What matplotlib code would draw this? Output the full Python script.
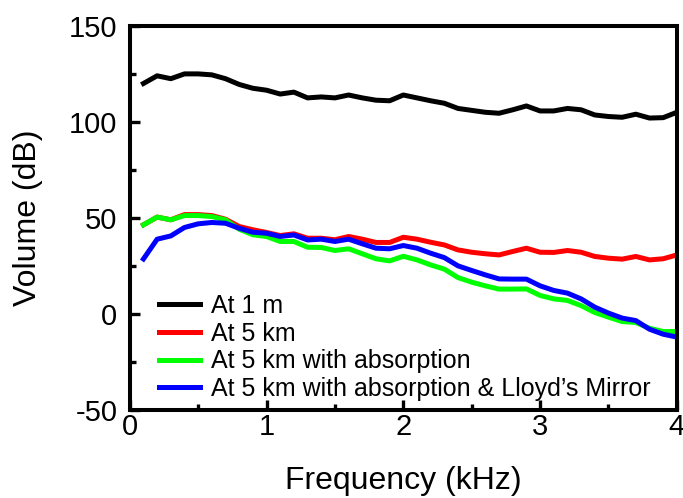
import matplotlib
matplotlib.use('Agg')
import matplotlib.pyplot as plt
from matplotlib.ticker import MultipleLocator
import numpy as np

plt.rcParams['font.family'] = ['Liberation Sans', 'DejaVu Sans']
plt.rcParams['axes.unicode_minus'] = False

# frequenze 0.1 .. 4.0 kHz
freq = np.round(np.arange(1, 41) * 0.1, 1)

at_1m = [120, 124, 122.5, 125, 125, 124.5, 122.5, 119.5, 117.5, 116.5,
         114.5, 115.5, 112.5, 113, 112.5, 114, 112.5, 111.3, 111, 114,
         112.5, 111, 109.7, 107, 106, 105, 104.5, 106.3, 108.3, 105.7,
         105.7, 107, 106.3, 103.6, 102.8, 102.4, 104, 102, 102.2, 105]

at_5km = [46.4, 50.4, 49, 51.7, 51.7, 51.2, 49.3, 45.5, 43.8, 42.4,
          40.8, 41.7, 39.4, 39.4, 38.6, 40.3, 38.9, 37.2, 37.2, 39.9,
          38.9, 37.3, 35.9, 33.3, 32.1, 31.3, 30.7, 32.5, 34.2, 32.1,
          32, 33, 32.1, 29.9, 29, 28.5, 29.9, 28.1, 28.7, 30.7]

absorption = [46.4, 50.4, 49, 51.2, 51.2, 50.7, 49, 44.1, 41.2, 40.3,
              37.7, 37.7, 34.7, 34.6, 33, 33.9, 31.3, 28.7, 27.6, 30,
              28.1, 25.5, 23.3, 18.9, 16.5, 14.6, 12.9, 12.9, 13, 9.6,
              7.8, 7, 4.3, 0.7, -1.7, -4, -4.5, -7.5, -9.2, -9.2]

lloyd = [28.6, 38.9, 40.6, 45, 46.9, 47.6, 47.2, 44.6, 42.5, 42,
         40.3, 41.1, 38.5, 38.9, 37.7, 38.9, 36.5, 34.2, 33.9, 35.6,
         34.2, 31.6, 29.3, 25, 22.6, 20.3, 18.2, 18.1, 18.1, 14.6,
         12.2, 10.8, 7.8, 3.5, 0.4, -2.2, -3.5, -8, -10.6, -12.1]

fig = plt.figure(figsize=(6.83, 4.98), dpi=100)
ax = fig.add_axes([0.190, 0.177, 0.801, 0.771])

lw = 3.6
ax.plot(freq, at_1m, color='black', lw=lw, label='At 1 m')
ax.plot(freq, at_5km, color='#ff0000', lw=lw, label='At 5 km')
ax.plot(freq, absorption, color='#00ff00', lw=lw, label='At 5 km with absorption')
ax.plot(freq, lloyd, color='#0000ff', lw=lw,
        label='At 5 km with absorption & Lloyd\u2019s Mirror')

ax.set_xlim(0, 4)
ax.set_ylim(-50, 150)
ax.xaxis.set_major_locator(MultipleLocator(1))
ax.xaxis.set_minor_locator(MultipleLocator(0.5))
ax.yaxis.set_major_locator(MultipleLocator(50))
ax.yaxis.set_minor_locator(MultipleLocator(25))
ax.tick_params(which='both', direction='in', width=2.4, labelsize=21,
               top=False, right=False)
ax.tick_params(which='major', length=7)
ax.tick_params(which='minor', length=4.5)
ax.tick_params(axis='x', which='major', pad=2)
ax.tick_params(axis='y', which='major', pad=9)
for s in ax.spines.values():
    s.set_linewidth(2.9)

ax.set_xlabel('Frequency (kHz)', fontsize=23)
ax.xaxis.set_label_coords(0.5, -0.146)
ax.xaxis.label.set_va('top')
ax.set_ylabel('Volume (dB)', fontsize=23)
ax.yaxis.set_label_coords(-0.158, 0.5)

ax.legend(loc='upper left', bbox_to_anchor=(0.053, 0.302), frameon=False,
          fontsize=18, handlelength=1.65, handletextpad=0.45,
          labelspacing=0.15, borderaxespad=0.0, borderpad=0.0)

fig.savefig('out.png', dpi=100)
